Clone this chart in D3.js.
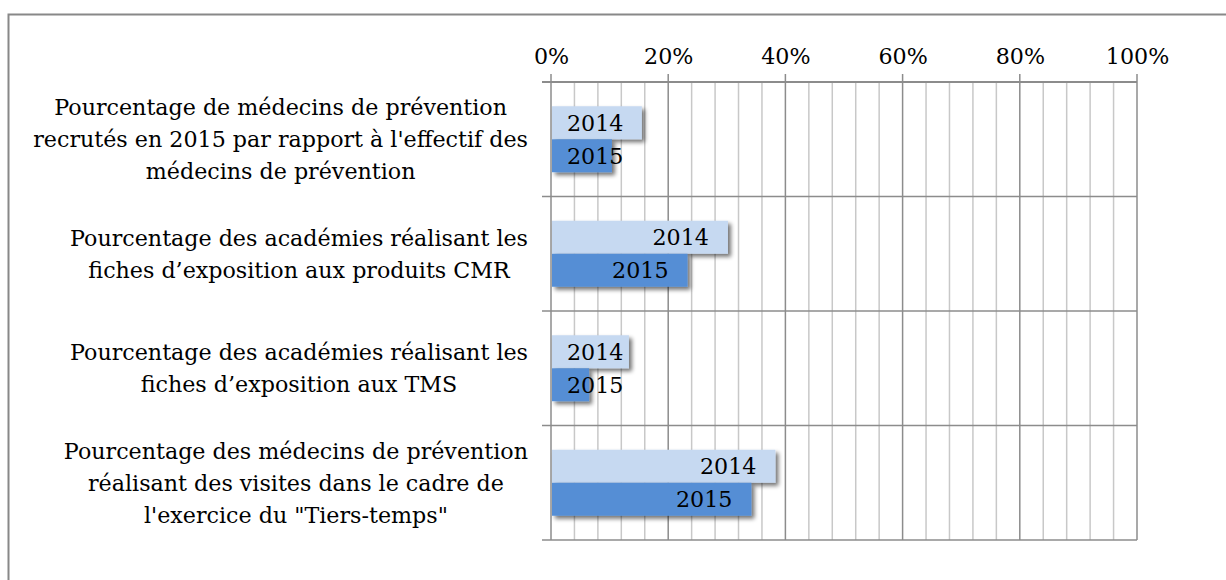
<!DOCTYPE html>
<html>
<head>
<meta charset="utf-8">
<script src="https://cdn.jsdelivr.net/npm/d3@7"></script>
<style>
  body { margin: 0; background: #fff; }
  svg text { font-family: "DejaVu Serif", serif; fill: #000; }
</style>
</head>
<body>
<svg id="chart" width="1226" height="580"></svg>
<script>
const categories = [
  ["Pourcentage de médecins de prévention", "recrutés en 2015 par rapport à l'effectif des", "médecins de prévention"],
  ["Pourcentage des académies réalisant les", "fiches d’exposition aux produits CMR"],
  ["Pourcentage des académies réalisant les", "fiches d’exposition aux TMS"],
  ["Pourcentage des médecins de prévention", "réalisant des visites dans le cadre de", "l'exercice du \"Tiers-temps\""]
];
const seriesNames = ["2014", "2015"];
const values2014 = [0.155, 0.302, 0.133, 0.383];
const values2015 = [0.104, 0.233, 0.065, 0.342];
const tickValues = [0, 0.2, 0.4, 0.6, 0.8, 1];
const colors = ["#c6d9f1", "#558ed5"];

const svg = d3.select("#chart");
const margin = { left: 551, right: 89, top: 82, bottom: 40 };
const width = 1226, height = 580;
const fontSize = 22.2;

// frame
svg.append("rect")
  .attr("x", 8.5).attr("y", 14.5)
  .attr("width", 1240).attr("height", 600)
  .attr("fill", "none").attr("stroke", "#888").attr("stroke-width", 2);

const x = d3.scaleLinear().domain([0, 1]).range([margin.left, width - margin.right]);
const y = d3.scaleBand().domain(d3.range(categories.length))
  .range([margin.top, height - margin.bottom]).paddingInner(0).paddingOuter(0);
const barH = 33;

const defs = svg.append("defs");
const f = defs.append("filter").attr("id", "shadow")
  .attr("x", "-10%").attr("y", "-30%").attr("width", "130%").attr("height", "180%");
f.append("feGaussianBlur").attr("in", "SourceAlpha").attr("stdDeviation", 2.2).attr("result", "b");
f.append("feOffset").attr("in", "b").attr("dx", 3).attr("dy", 3).attr("result", "o");
f.append("feComponentTransfer").attr("in", "o").attr("result", "s")
  .append("feFuncA").attr("type", "linear").attr("slope", 0.55);
const m = f.append("feMerge");
m.append("feMergeNode").attr("in", "s");
m.append("feMergeNode").attr("in", "SourceGraphic");

// minor gridlines
const minor = d3.range(0, 101, 4).map(d => d / 100).filter(d => Math.round(d * 100) % 20 !== 0);
svg.append("g").selectAll("line").data(minor).enter().append("line")
  .attr("x1", d => x(d)).attr("x2", d => x(d))
  .attr("y1", margin.top).attr("y2", height - margin.bottom)
  .attr("stroke", "#c8c8c8").attr("stroke-width", 1.5);

// major gridlines
svg.append("g").selectAll("line").data(tickValues).enter().append("line")
  .attr("x1", d => x(d)).attr("x2", d => x(d))
  .attr("y1", margin.top - 8).attr("y2", height - margin.bottom)
  .attr("stroke", "#8c8c8c").attr("stroke-width", 1.5);

// category separators
svg.append("g").selectAll("line").data(d3.range(categories.length + 1)).enter().append("line")
  .attr("x1", margin.left - 9).attr("x2", x(1))
  .attr("y1", d => d === categories.length ? height - margin.bottom : y(d))
  .attr("y2", d => d === categories.length ? height - margin.bottom : y(d))
  .attr("stroke", "#8c8c8c").attr("stroke-width", d => d === 0 ? 2 : 1.5);

// top axis labels
const axis = d3.axisTop(x).tickValues(tickValues).tickFormat(d3.format(".0%")).tickSize(0).tickPadding(0);
const ax = svg.append("g").attr("transform", `translate(0,${margin.top})`).call(axis);
ax.select(".domain").remove();
ax.selectAll("text")
  .attr("y", -18)
  .style("font-family", "'DejaVu Serif', serif")
  .style("font-size", fontSize + "px").attr("fill", "#000");

// bars
const series = [values2014, values2015];
const groupTop = i => y(i) + y.bandwidth() / 2 - barH;
series.forEach((vals, s) => {
  svg.append("g").attr("filter", "url(#shadow)").selectAll("rect").data(vals).enter().append("rect")
    .attr("x", x(0) + 1)
    .attr("y", (d, i) => groupTop(i) + s * barH)
    .attr("width", d => x(d) - x(0) - 1)
    .attr("height", barH)
    .attr("fill", colors[s]);
});

// series name labels inside end
series.forEach((vals, s) => {
  svg.append("g").selectAll("text").data(vals).enter().append("text")
    .attr("y", (d, i) => groupTop(i) + s * barH + barH / 2)
    .attr("dy", "0.35em")
    .style("font-size", fontSize + "px")
    .text(seriesNames[s])
    .each(function (d) {
      const w = this.getComputedTextLength();
      const start = Math.max(x(0) + 16, x(d) - 19 - w);
      d3.select(this).attr("x", start);
    });
});

// category labels, wrapped and centred as a block against the axis
const lineH = 32;
categories.forEach((lines, i) => {
  const g = svg.append("g");
  const texts = g.selectAll("text").data(lines).enter().append("text")
    .attr("text-anchor", "middle")
    .style("font-size", fontSize + "px")
    .attr("y", (d, j) => y(i) + y.bandwidth() / 2 + (j - (lines.length - 1) / 2) * lineH)
    .attr("dy", "0.35em")
    .text(d => d);
  let maxW = 0;
  texts.each(function () { maxW = Math.max(maxW, this.getComputedTextLength()); });
  texts.attr("x", 528 - maxW / 2);
});
</script>
</body>
</html>
